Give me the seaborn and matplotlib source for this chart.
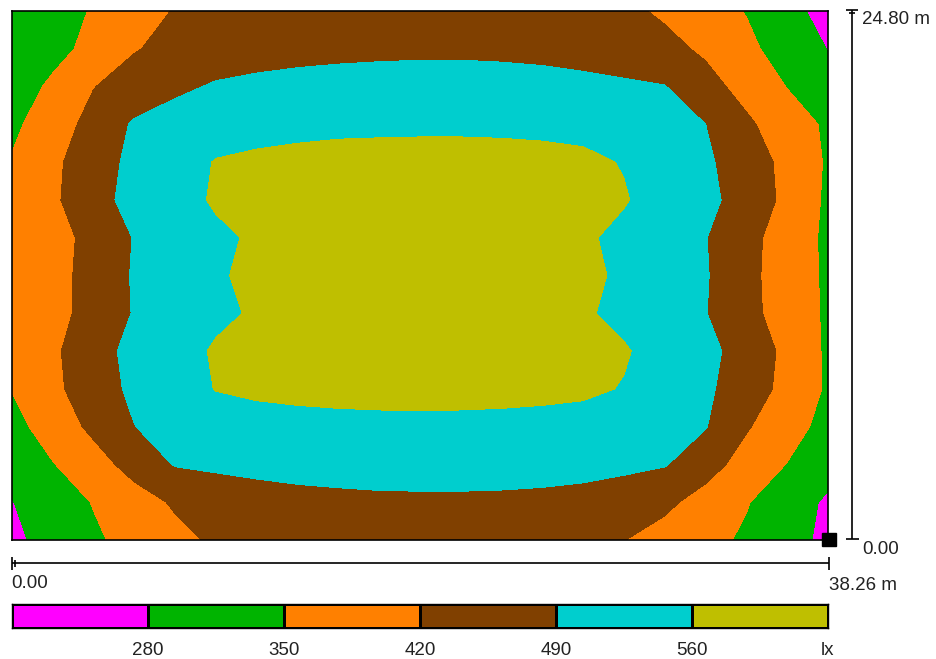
import numpy as np
import matplotlib
matplotlib.use("Agg")
import matplotlib.pyplot as plt
from matplotlib.colors import ListedColormap
from matplotlib.patches import Rectangle
import seaborn as sns

# Room dimensions (m) and illuminance bands (lx)
width_m = 38.26
depth_m = 24.80
levels = [280, 350, 420, 490, 560]
band_colors = ["#ff00ff", "#00b400", "#ff8000", "#804000", "#00cece", "#bfbf00"]
unit = "lx"

# Calculated illuminance on the work plane (lx); rows run from the far wall
# (y = 24.80 m) down to y = 0, columns from x = 0 to x = 38.26 m.
row_00 = [290, 322, 355, 390, 424, 440, 452, 460, 466, 470, 471, 471, 468, 462, 450, 435, 409, 378, 347, 301, 256]
row_01 = [300, 330, 368, 416, 438, 452, 463, 470, 475, 478, 480, 480, 478, 474, 466, 455, 440, 408, 365, 321, 278]
row_02 = [318, 361, 418, 448, 476, 497, 505, 510, 512, 513, 513, 513, 512, 510, 506, 500, 492, 445, 395, 348, 305]
row_03 = [336, 387, 442, 498, 520, 533, 541, 546, 549, 550, 551, 551, 550, 548, 544, 536, 522, 490, 432, 381, 340]
row_04 = [355, 405, 462, 505, 534, 563, 570, 574, 577, 578, 578, 578, 577, 575, 571, 557, 529, 500, 456, 401, 342]
row_05 = [358, 408, 468, 510, 540, 566, 578, 584, 587, 588, 588, 588, 587, 585, 579, 564, 535, 506, 464, 403, 338]
row_06 = [352, 394, 441, 493, 521, 550, 567, 578, 584, 587, 588, 587, 584, 578, 568, 546, 519, 492, 441, 388, 337]
row_07 = [353, 396, 445, 496, 525, 555, 570, 580, 585, 587, 588, 587, 585, 580, 571, 552, 524, 495, 438, 387, 339]
row_08 = [352, 397, 445, 494, 521, 549, 566, 578, 584, 587, 588, 587, 584, 578, 567, 545, 519, 492, 440, 389, 340]
row_09 = [358, 408, 465, 508, 538, 566, 576, 582, 586, 587, 588, 587, 586, 583, 577, 565, 537, 507, 464, 403, 339]
row_10 = [352, 404, 459, 503, 532, 562, 570, 574, 577, 579, 580, 579, 577, 574, 570, 557, 529, 501, 455, 400, 341]
row_11 = [328, 381, 435, 489, 515, 530, 538, 542, 544, 545, 545, 545, 544, 542, 538, 530, 515, 493, 426, 377, 328]
row_12 = [303, 347, 392, 445, 494, 502, 507, 510, 511, 512, 512, 512, 511, 510, 507, 502, 494, 447, 393, 348, 305]
row_13 = [278, 316, 353, 391, 428, 448, 463, 472, 477, 480, 481, 481, 480, 477, 472, 460, 434, 394, 354, 312, 270]
row_14 = [265, 305, 340, 372, 402, 430, 445, 454, 459, 462, 463, 463, 462, 458, 448, 421, 395, 369, 340, 303, 265]

lux = np.array([row_00, row_01, row_02, row_03, row_04, row_05, row_06, row_07,
                row_08, row_09, row_10, row_11, row_12, row_13, row_14], dtype=float)
x_m = np.linspace(0, width_m, lux.shape[1])
y_m = np.linspace(depth_m, 0, lux.shape[0])

sns.set_style("white")
plt.rcParams["font.family"] = ["Liberation Sans", "DejaVu Sans"]
plt.rcParams["font.size"] = 13.5

W, H = 937, 659
fig = plt.figure(figsize=(W / 100, H / 100), dpi=100)


def rect(x0, y0, x1, y1):
    return [x0 / W, 1 - y1 / H, (x1 - x0) / W, (y1 - y0) / H]


# Isolux plan
ax = fig.add_axes(rect(12, 11, 828, 540))
X, Y = np.meshgrid(x_m, y_m)
ax.contourf(X, Y, lux, levels=[0] + levels + [10000], colors=band_colors)
ax.set_xlim(0, width_m)
ax.set_ylim(0, depth_m)
ax.set_xticks([])
ax.set_yticks([])
for s in ax.spines.values():
    s.set_visible(True)
    s.set_color("black")
    s.set_linewidth(1.2)

# Band legend bar
ax_bar = fig.add_axes(rect(12, 604, 828, 628))
sns.heatmap(np.arange(len(band_colors)).reshape(1, -1), cmap=ListedColormap(band_colors),
            vmin=0, vmax=len(band_colors) - 1, cbar=False, linewidths=1.0,
            linecolor="black", ax=ax_bar, xticklabels=False, yticklabels=False)
for s in ax_bar.spines.values():
    s.set_visible(True)
    s.set_color("black")
    s.set_linewidth(1.0)
ax_bar.set_xticks(np.arange(1, len(band_colors) + 1))
ax_bar.set_xticklabels([str(v) for v in levels] + [unit])
ax_bar.tick_params(axis="x", length=0, pad=10, labelsize=13.5, colors="#222222")
ax_bar.set_yticks([])

# Dimension lines
ov = fig.add_axes([0, 0, 1, 1])
ov.set_xlim(0, W)
ov.set_ylim(H, 0)
ov.axis("off")
lk = dict(color="black", lw=1.2, solid_capstyle="butt")
ov.plot([852, 852], [10, 539], **lk)
ov.plot([846, 858], [10, 10], **lk)
ov.plot([849, 855], [13, 13], **lk)
ov.plot([846, 859], [539, 539], **lk)
ov.plot([12, 829], [563, 563], **lk)
ov.plot([12, 12], [557, 570], **lk)
ov.plot([15, 15], [560, 567], **lk)
ov.plot([829, 829], [557, 570], **lk)
ov.add_patch(Rectangle((822, 533), 14, 13, color="black"))

tk = dict(fontsize=13.5, color="#222222", va="center", ha="left")
ov.text(862, 19, f"{depth_m:.2f} m", **tk)
ov.text(862, 550, f"{0:.2f}", **tk)
ov.text(11, 584, f"{0:.2f}", **tk)
ov.text(829, 585, f"{width_m:.2f} m", **tk)

fig.savefig("out.png", dpi=100)
